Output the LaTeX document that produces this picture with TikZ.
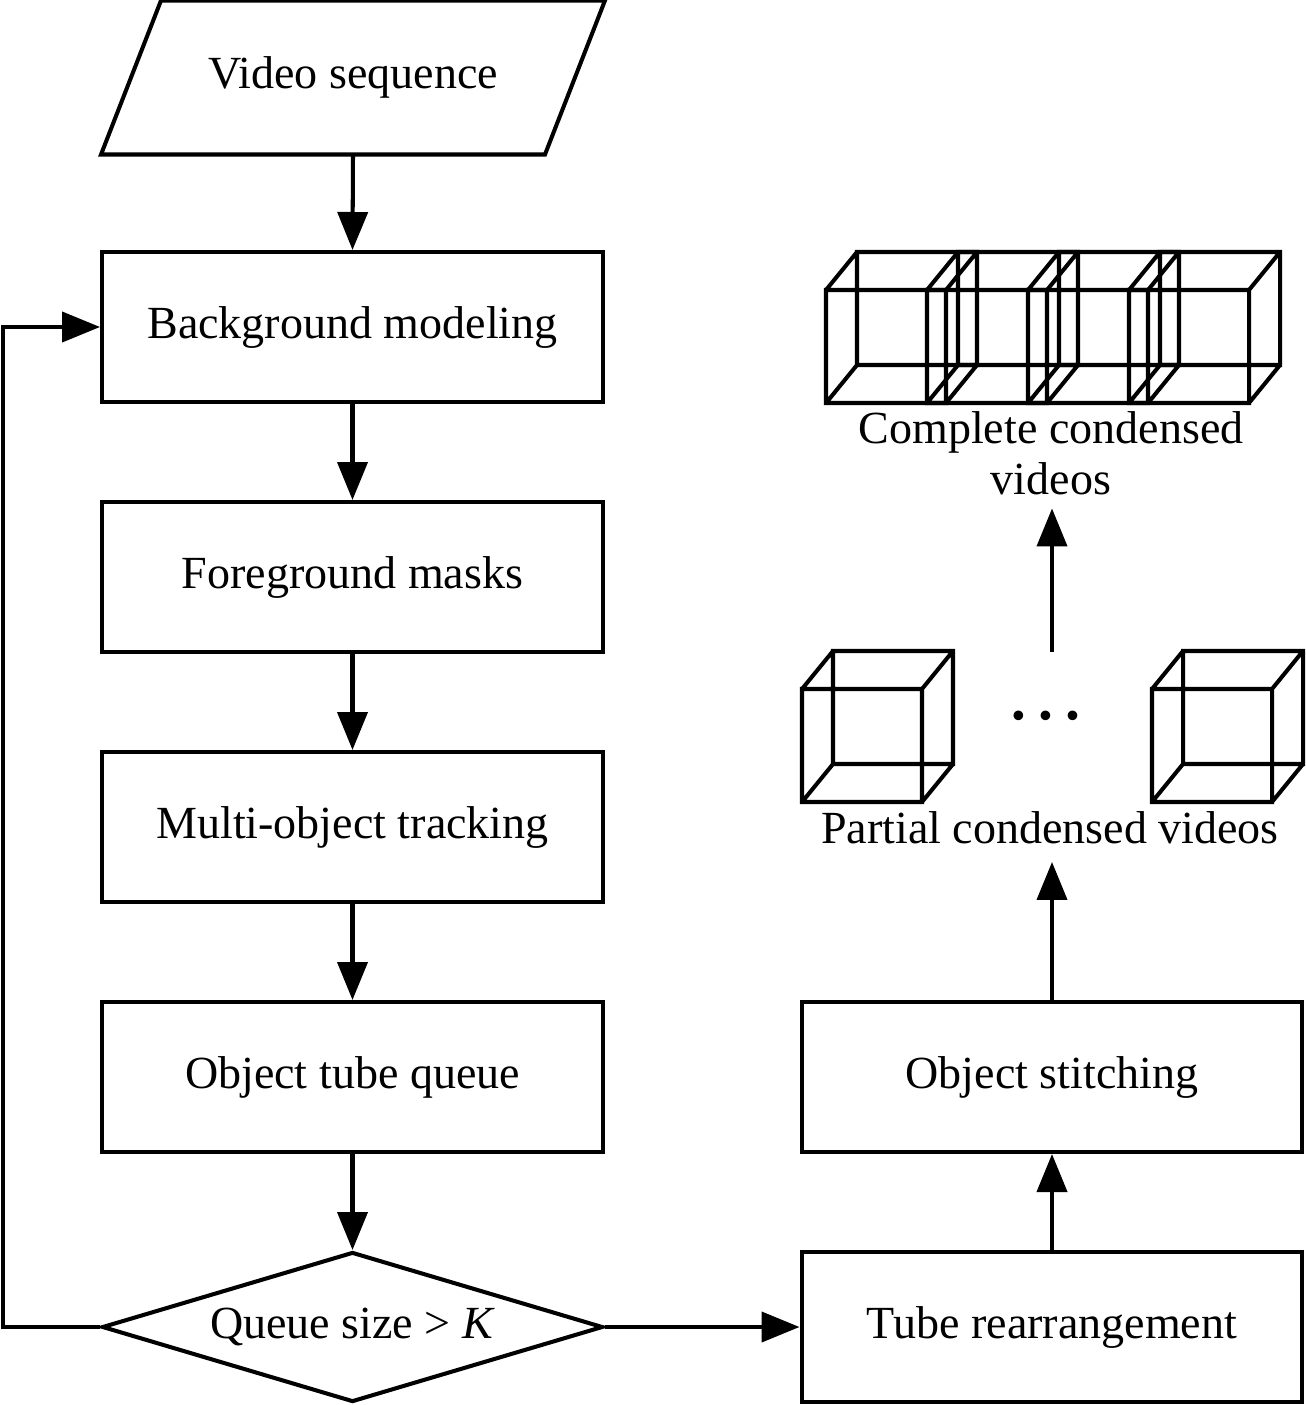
\documentclass[tikz,border=0pt]{standalone}
\usepackage{fontspec}
\setmainfont{Liberation Serif}
\usetikzlibrary{shapes.geometric,arrows.meta}

\tikzset{pics/tube/.style={code={
  \draw (0,0) rectangle (120,113) (31,-38) rectangle (151,75)
    (0,0) -- (31,-38) (120,0) -- (151,-38) (0,113) -- (31,75) (120,113) -- (151,75);
}}}

\begin{document}
\begin{tikzpicture}[x=0.02cm, y=-0.02cm, line width=2.3pt,
  every node/.style={font=\fontsize{26.2}{29}\selectfont},
  proc/.style={draw, rectangle, minimum width=10.02cm, minimum height=3cm},
  decide/.style={draw, diamond, aspect=3.34, minimum width=10.02cm, minimum height=3cm, inner sep=0pt},
  flow/.style={-{Triangle[length=0.76cm, width=0.6cm]}}]
\useasboundingbox (0,0) rectangle (1305,1405);

\node[minimum width=8.8cm, minimum height=3cm] (video) at (353,77.5) {Video sequence};
\draw ([xshift=0.6cm]video.north west) -- ([xshift=0.6cm]video.north east)
  -- ([xshift=-0.6cm]video.south east) -- ([xshift=-0.6cm]video.south west) -- cycle;

\node[proc] (bg) at (352.5,327) {Background modeling};
\node[proc] (fg) at (352.5,577) {Foreground masks};
\node[proc] (mot) at (352.5,827) {Multi-object tracking};
\node[proc] (queue) at (352.5,1077) {Object tube queue};
\node[decide] (check) at (352.5,1327) {Queue size > \textit{K}};
\node[proc] (rearr) at (1052,1327) {Tube rearrangement};
\node[proc] (stitch) at (1052,1077) {Object stitching};

\draw[flow] (video.south) -- (bg.north);
\draw[flow] (bg) -- (fg);
\draw[flow] (fg) -- (mot);
\draw[flow] (mot) -- (queue);
\draw[flow] (queue) -- (check);
\draw[flow] (check.east) -- (rearr.west);
\draw[flow] (check.west) -- ++(-97,0) |- (bg.west);
\draw[flow] (rearr) -- (stitch);

\pic at (802,689) {tube};
\pic at (1152,689) {tube};
\node[font=\fontsize{46}{46}\selectfont, inner sep=0pt] (dots) at (1046,716) {…};
\node[inner sep=1pt] (partial) at (1050,828) {Partial condensed videos};
\draw[flow] (stitch.north) -- ([yshift=-0.28cm]partial.south -| stitch.north);

\foreach \x in {826,927,1028,1129}
  \pic at (\x,290) {tube};
\node[align=center, inner sep=1pt] (complete) at (1051,453) {Complete condensed\\videos};
\coordinate (up) at (1052,652);
\draw[flow] (up) -- ([yshift=-0.2cm]complete.south -| up);
\end{tikzpicture}
\end{document}
